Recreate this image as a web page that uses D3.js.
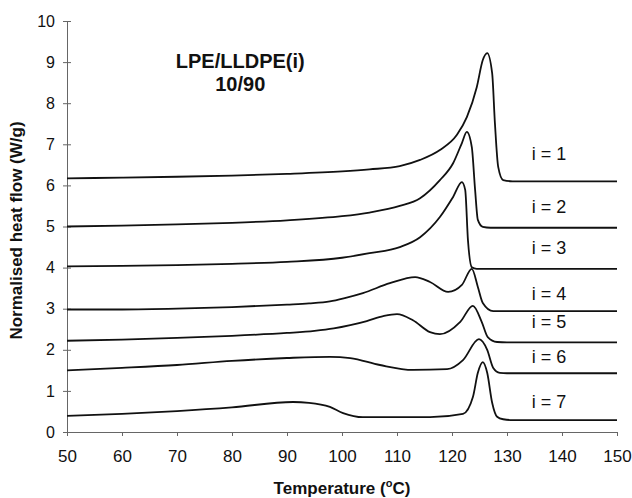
<!DOCTYPE html>
<html>
<head>
<meta charset="utf-8">
<script src="https://cdn.jsdelivr.net/npm/d3@7"></script>
<style>
  body { margin: 0; background: #fff; }
  text { font-family: "Liberation Sans", Arial, sans-serif; fill: #111; }
</style>
</head>
<body>
<svg id="chart" width="632" height="498"></svg>
<script>
// DSC traces: [temperature, heat flow]
var curve1 = [[50,6.17],[60,6.19],[70,6.21],[80,6.24],[90,6.28],[100,6.34],[105,6.39],[110.5,6.47],[114.2,6.62],[117.8,6.86],[120.9,7.23],[122.7,7.66],[124.5,8.39],[125.6,9.05],[126.4,9.22],[127.3,8.73],[127.8,7.52],[128.4,6.45],[129.3,6.13],[131,6.1],[150,6.1]];
var curve2 = [[50,5.0],[60,5.02],[70,5.05],[80,5.09],[90,5.15],[100,5.25],[105,5.34],[110.5,5.5],[114.2,5.69],[117.8,6.13],[120.2,6.54],[121.8,7.03],[122.7,7.3],[123.6,6.93],[124.2,5.89],[124.7,5.16],[125.6,4.99],[127,4.97],[150,4.97]];
var curve3 = [[50,4.03],[60,4.04],[70,4.06],[80,4.09],[90,4.14],[100,4.24],[105,4.35],[110.5,4.5],[114.2,4.74],[117.8,5.23],[120.2,5.72],[121.8,6.08],[122.4,5.89],[122.9,4.67],[123.6,4.01],[124.5,3.97],[126,3.97],[150,3.97]];
var curve4 = [[50,2.98],[60,2.98],[70,3.0],[80,3.04],[90,3.1],[94,3.13],[97.8,3.18],[100.5,3.26],[103.8,3.38],[108.7,3.62],[113.3,3.77],[116,3.65],[119.3,3.41],[121.8,3.58],[123.6,3.97],[124.7,3.53],[125.6,3.14],[127.5,2.94],[129,2.94],[150,2.94]];
var curve5 = [[50,2.22],[60,2.25],[70,2.29],[80,2.34],[90,2.41],[95,2.46],[98.5,2.52],[101.5,2.6],[104.5,2.7],[107.5,2.82],[110,2.87],[112.9,2.72],[116,2.43],[117.8,2.38],[121.5,2.68],[123.8,3.07],[125.4,2.68],[126.5,2.31],[128.2,2.19],[130,2.18],[150,2.18]];
var curve6 = [[50,1.5],[60,1.56],[70,1.63],[80,1.73],[90,1.8],[97.8,1.83],[101.5,1.8],[106.9,1.63],[112.9,1.51],[119.1,1.53],[122,1.75],[124.9,2.26],[126.4,2.0],[127.5,1.56],[128.7,1.44],[130,1.43],[150,1.43]];
var curve7 = [[50,0.39],[60,0.44],[70,0.51],[80,0.6],[91.1,0.73],[94,0.71],[97.8,0.61],[100.2,0.46],[103.8,0.36],[116,0.36],[122,0.44],[123.8,0.85],[124.7,1.44],[125.6,1.7],[126.4,1.44],[127.3,0.71],[128.2,0.37],[129.3,0.31],[131,0.29],[150,0.29]];

var curves = [curve1, curve2, curve3, curve4, curve5, curve6, curve7];
var labels = ["i = 1", "i = 2", "i = 3", "i = 4", "i = 5", "i = 6", "i = 7"];
var labelX = 134.5;
var labelY = [6.62, 5.33, 4.33, 3.21, 2.53, 1.68, 0.58];

var xTicks = [50,60,70,80,90,100,110,120,130,140,150];
var yTicks = [0,1,2,3,4,5,6,7,8,9,10];

var svg = d3.select("#chart");
var margin = {top: 21, right: 15, bottom: 66, left: 67};
var width = 632 - margin.left - margin.right,
    height = 498 - margin.top - margin.bottom;

var g = svg.append("g").attr("transform", "translate(" + margin.left + "," + margin.top + ")");

var x = d3.scaleLinear().domain([50, 150]).range([0, width]);
var y = d3.scaleLinear().domain([0, 10]).range([height, 0]);

// x axis
var xAxis = g.append("g")
    .attr("transform", "translate(0," + height + ")")
    .call(d3.axisBottom(x).tickValues(xTicks).tickSize(4).tickSizeOuter(0).tickPadding(14));
xAxis.selectAll("text").style("font-size", "17px").attr("fill", "#111");

// y axis, ticks cross the line
var yAxis = g.append("g")
    .call(d3.axisLeft(y).tickValues(yTicks).tickSize(4).tickSizeOuter(0).tickPadding(8));
yAxis.selectAll(".tick line").attr("x2", 4).attr("x1", -4);
yAxis.selectAll("text").style("font-size", "16px").attr("fill", "#111");

svg.selectAll(".domain, .tick line").attr("stroke", "#666").attr("stroke-width", 1);

// traces
var line = d3.line()
    .x(function(d) { return x(d[0]); })
    .y(function(d) { return y(d[1]); })
    .curve(d3.curveMonotoneX);

g.selectAll("path.trace")
    .data(curves)
    .enter().append("path")
    .attr("class", "trace")
    .attr("d", line)
    .attr("fill", "none")
    .attr("stroke", "#111")
    .attr("stroke-width", 1.8);

g.selectAll("text.lab")
    .data(labels)
    .enter().append("text")
    .attr("class", "lab")
    .attr("x", x(labelX))
    .attr("y", function(d, i) { return y(labelY[i]); })
    .style("font-size", "18px")
    .text(function(d) { return d; });

// title
g.append("text")
    .attr("x", x(81.5)).attr("y", 47)
    .attr("text-anchor", "middle")
    .style("font-size", "20px").style("font-weight", "bold")
    .text("LPE/LLDPE(i)");
g.append("text")
    .attr("x", x(81.5)).attr("y", 70)
    .attr("text-anchor", "middle")
    .style("font-size", "20px").style("font-weight", "bold")
    .text("10/90");

// axis titles
var xt = svg.append("text")
    .attr("x", margin.left + width / 2).attr("y", 494)
    .attr("text-anchor", "middle")
    .style("font-size", "17px").style("font-weight", "bold");
xt.append("tspan").text("Temperature (");
xt.append("tspan").attr("dy", -7).style("font-size", "11px").text("o");
xt.append("tspan").attr("dy", 7).text("C)");

svg.append("text")
    .attr("transform", "translate(22," + (margin.top + height / 2 + 4) + ") rotate(-90)")
    .attr("text-anchor", "middle")
    .style("font-size", "17px").style("font-weight", "bold")
    .text("Normalised heat flow (W/g)");
</script>
</body>
</html>
